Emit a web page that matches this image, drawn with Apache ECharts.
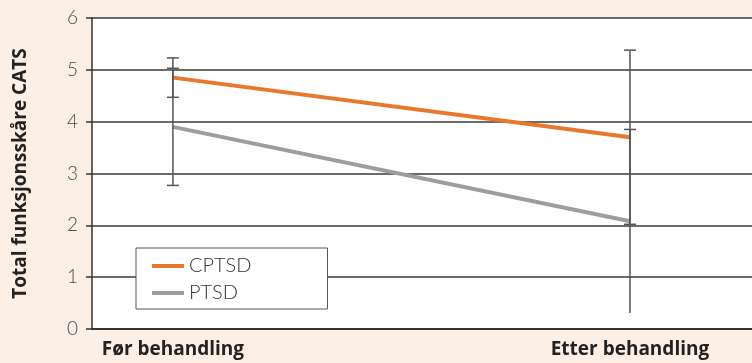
<!DOCTYPE html>
<html>
<head>
<meta charset="utf-8">
<script src="https://cdn.jsdelivr.net/npm/echarts@6/dist/echarts.min.js"></script>
<style>
  html, body { margin: 0; padding: 0; background: #fbefe6; }
  #chart { width: 752px; height: 363px; }
</style>
</head>
<body>
<div id="chart"></div>
<script>
// Mean total CATS score before and after treatment, with error bars
const categories = ['Før behandling', 'Etter behandling'];
const seriesNames = ['CPTSD', 'PTSD'];
const cptsdMeans = [4.85, 3.7];
const cptsdErrors = [0.38, 1.68];
const ptsdMeans = [3.9, 2.08];
const ptsdErrors = [1.13, 1.77];
// whether the lower end of each error bar carries a cap
const cptsdLowerCap = [true, true];
const ptsdLowerCap = [true, false];
const yTicks = [0, 1, 2, 3, 4, 5, 6];

const colors = { CPTSD: '#e8782b', PTSD: '#9d9d9f' };

function pointsOf(means) {
  return means.map((v, i) => [i, v]);
}
function barsOf(means, errs, lowerCaps) {
  return means.map((v, i) => [i, v - errs[i], v + errs[i], lowerCaps[i] ? 1 : 0]);
}

const chart = echarts.init(document.getElementById('chart'), null, { renderer: 'canvas' });

function renderErrorBar(params, api) {
  const x = api.value(0);
  const lo = api.coord([x, api.value(1)]);
  const hi = api.coord([x, api.value(2)]);
  const half = 6;
  const style = { stroke: '#555555', lineWidth: 1.5 };
  const children = [
    { type: 'line', shape: { x1: lo[0], y1: lo[1], x2: hi[0], y2: hi[1] }, style },
    { type: 'line', shape: { x1: hi[0] - half, y1: hi[1], x2: hi[0] + half, y2: hi[1] }, style }
  ];
  if (api.value(3)) {
    children.push({ type: 'line', shape: { x1: lo[0] - half, y1: lo[1], x2: lo[0] + half, y2: lo[1] }, style });
  }
  return { type: 'group', children };
}

const boldText = { fontFamily: 'Open Sans', fontWeight: 'bold', fontSize: 19, color: '#222222' };

chart.setOption({
  backgroundColor: '#fbefe6',
  animation: false,
  grid: {
    left: 92, right: 0, top: 18, bottom: 34,
    show: true, backgroundColor: '#ffffff', borderWidth: 0
  },
  legend: {
    orient: 'vertical',
    left: 136, top: 248,
    data: seriesNames,
    backgroundColor: '#ffffff',
    borderColor: '#555555',
    borderWidth: 1,
    borderRadius: 0,
    padding: [7, 76, 5, 16],
    itemWidth: 32,
    itemHeight: 4,
    itemGap: 5,
    icon: 'rect',
    textStyle: { fontFamily: 'Lato', fontWeight: 300, fontSize: 20, color: '#333333', lineHeight: 22 }
  },
  xAxis: {
    type: 'value',
    min: -0.177,
    max: 1.267,
    axisLine: { show: true, lineStyle: { color: '#333333', width: 2 } },
    axisTick: { show: false },
    splitLine: { show: false },
    axisLabel: Object.assign({
      customValues: [0, 1],
      formatter: v => categories[Math.round(v)],
      margin: 11
    }, boldText)
  },
  yAxis: {
    type: 'value',
    min: yTicks[0],
    max: yTicks[yTicks.length - 1],
    interval: 1,
    name: 'Total funksjonsskåre CATS',
    nameLocation: 'middle',
    nameGap: 62,
    nameTextStyle: boldText,
    axisLine: { show: true, onZero: false, lineStyle: { color: '#333333', width: 1.5 } },
    axisTick: { show: true, length: 6, lineStyle: { color: '#333333', width: 1.5 } },
    splitLine: { show: true, lineStyle: { color: '#3a3a3a', width: 1.5 } },
    axisLabel: {
      fontFamily: 'Lato', fontWeight: 300, fontSize: 19, color: '#4a4a4a', margin: 14
    }
  },
  series: [
    {
      name: 'CPTSD', type: 'line', data: pointsOf(cptsdMeans),
      symbol: 'none', color: colors.CPTSD,
      lineStyle: { width: 4, color: colors.CPTSD }, z: 3
    },
    {
      name: 'PTSD', type: 'line', data: pointsOf(ptsdMeans),
      symbol: 'none', color: colors.PTSD,
      lineStyle: { width: 4, color: colors.PTSD }, z: 3
    },
    {
      type: 'custom', renderItem: renderErrorBar,
      data: barsOf(cptsdMeans, cptsdErrors, cptsdLowerCap), z: 4, silent: true
    },
    {
      type: 'custom', renderItem: renderErrorBar,
      data: barsOf(ptsdMeans, ptsdErrors, ptsdLowerCap), z: 4, silent: true
    }
  ]
});
</script>
</body>
</html>
